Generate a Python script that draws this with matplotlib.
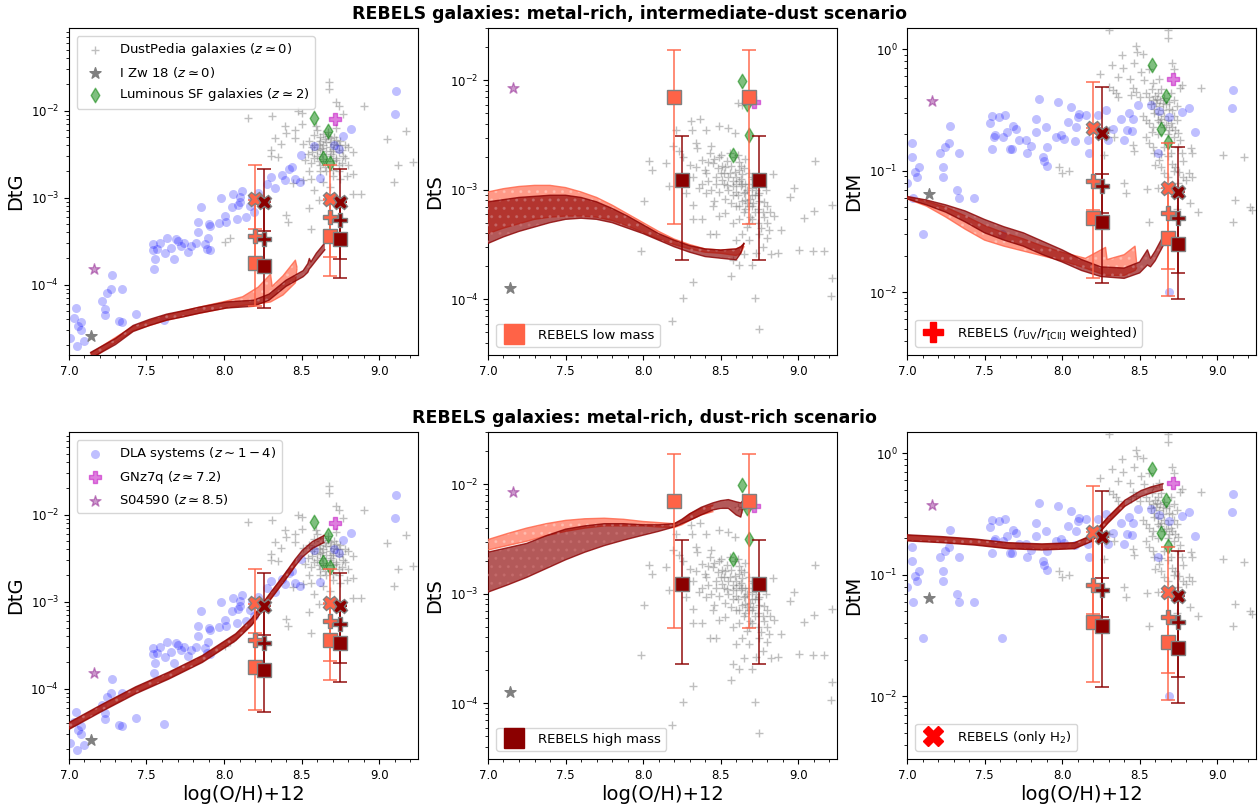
import numpy as np
import matplotlib
matplotlib.use("Agg")
import matplotlib.pyplot as plt
from matplotlib.lines import Line2D
from matplotlib.ticker import MultipleLocator

# ==========================================================
# Data (all y values stored as log10)
# ==========================================================

# DustPedia galaxies (z ~ 0): (log(O/H)+12, log10 value)
dp_dtg = [
    (8.155, -2.08), (8.31, -2.06), (8.48, -2.00), (8.50, -2.03), (8.675, -1.67), (8.675, -1.75),
    (8.72, -1.90), (8.74, -1.95), (8.77, -2.04), (8.905, -1.95), (9.05, -2.33), (9.175, -2.23),
    (9.12, -2.63), (9.095, -2.82), (9.22, -2.59),
    (8.39, -2.18), (8.40, -2.26), (8.33, -2.31), (8.365, -2.38), (8.30, -2.45), (8.30, -2.52),
    (8.35, -2.53), (8.455, -2.31), (8.46, -2.22), (8.50, -2.16), (8.51, -2.38), (8.52, -2.57),
    (8.55, -2.70), (8.51, -2.80), (8.56, -2.79), (8.58, -2.91), (8.615, -3.03), (8.55, -3.12),
    (8.56, -3.36), (8.40, -3.20), (8.41, -3.28), (8.005, -3.51), (8.04, -3.46), (8.445, -2.83),
    (8.68, -3.03), (8.745, -2.79), (8.79, -2.75), (8.83, -2.73), (8.83, -2.48), (8.80, -2.42),
    (8.88, -2.96), (8.83, -2.96), (8.70, -2.68), (8.72, -2.57),
    (8.55, -2.35), (8.57, -2.42), (8.58, -2.28), (8.60, -2.45), (8.61, -2.38), (8.62, -2.30),
    (8.63, -2.50), (8.64, -2.40), (8.65, -2.33), (8.66, -2.46), (8.67, -2.25), (8.68, -2.52),
    (8.69, -2.36), (8.70, -2.44), (8.71, -2.30), (8.72, -2.55), (8.73, -2.40), (8.74, -2.48),
    (8.75, -2.35), (8.76, -2.60), (8.58, -2.55), (8.60, -2.22), (8.62, -2.62), (8.64, -2.27),
    (8.66, -2.58), (8.68, -2.32), (8.70, -2.47), (8.72, -2.20), (8.74, -2.62), (8.63, -2.43),
    (8.65, -2.65), (8.67, -2.29), (8.69, -2.50), (8.71, -2.38), (8.59, -2.18), (8.61, -2.58),
    (8.57, -2.48), (8.77, -2.52), (8.78, -2.40), (8.62, -2.70),
    (8.58, -2.40), (8.60, -2.52), (8.62, -2.44), (8.64, -2.56), (8.66, -2.36), (8.68, -2.42),
    (8.70, -2.58), (8.72, -2.34), (8.74, -2.40), (8.62, -2.35), (8.54, -2.50), (8.56, -2.60),
    (8.76, -2.45), (8.78, -2.55), (8.80, -2.62), (8.66, -2.70), (8.70, -2.75), (8.74, -2.70),
    (8.64, -2.82), (8.68, -2.88),
]

dp_dts = [
    (7.987, -3.555), (8.009, -3.10), (8.04, -2.735), (8.06, -2.82), (8.15, -2.76), (8.17, -2.97),
    (8.185, -4.20), (8.255, -3.985), (8.325, -3.84), (8.21, -2.45), (8.19, -2.60), (8.23, -2.65),
    (8.31, -2.375), (8.37, -2.355), (8.315, -2.45), (8.405, -2.45), (8.49, -2.415), (8.55, -2.44),
    (8.635, -2.23), (8.59, -2.48), (8.61, -2.21), (8.34, -2.57), (8.30, -2.77), (8.34, -2.79),
    (8.275, -2.88), (8.32, -2.88), (8.43, -2.66), (8.45, -2.76), (8.49, -2.70), (8.53, -2.79),
    (8.38, -2.73), (8.405, -2.85), (8.47, -2.88), (8.51, -2.91), (8.56, -2.85), (8.58, -2.97),
    (8.60, -2.88), (8.62, -2.82), (8.63, -2.97), (8.65, -3.03), (8.66, -3.09), (8.68, -3.15),
    (8.705, -2.88), (8.725, -2.94), (8.75, -3.03), (8.78, -3.11), (8.80, -3.15), (8.835, -2.86),
    (8.845, -3.24), (8.815, -3.37), (8.80, -3.44), (8.89, -3.37), (8.87, -3.58), (8.825, -3.59),
    (8.77, -3.52), (8.725, -3.58), (8.705, -3.69), (8.65, -3.59), (8.62, -3.69), (8.58, -3.64),
    (8.565, -3.79), (8.72, -3.99), (8.75, -4.27), (8.975, -2.98), (8.945, -3.07), (9.005, -3.55),
    (9.04, -3.26), (9.095, -3.56), (9.10, -3.19), (9.11, -2.74), (9.165, -3.555), (9.22, -3.14),
    (9.22, -3.81), (9.21, -3.97), (8.43, -3.40), (8.47, -3.40), (8.38, -3.27), (8.32, -3.27),
    (8.32, -3.14), (8.275, -3.03), (8.405, -3.03), (8.45, -3.15), (8.49, -3.24), (8.53, -3.21),
    (8.58, -3.30), (8.60, -3.15), (8.62, -3.27), (8.64, -3.40), (8.67, -3.34), (8.705, -3.27),
    (8.75, -3.40), (8.68, -3.46), (8.60, -3.46),
    (8.46, -2.72), (8.48, -2.80), (8.50, -2.68), (8.52, -2.95), (8.54, -2.74), (8.55, -3.00),
    (8.57, -2.78), (8.58, -2.92), (8.59, -2.70), (8.61, -3.05), (8.62, -2.75), (8.63, -2.90),
    (8.64, -3.10), (8.65, -2.80), (8.66, -2.95), (8.67, -3.00), (8.68, -2.85), (8.69, -3.08),
    (8.70, -2.98), (8.71, -3.12), (8.72, -3.05), (8.74, -3.18), (8.76, -2.92), (8.77, -3.20),
    (8.79, -3.00), (8.52, -2.85), (8.56, -2.66), (8.60, -2.95), (8.64, -2.86), (8.66, -3.18),
    (8.35, -2.62), (8.42, -2.92), (8.44, -2.60), (8.36, -2.98), (8.26, -2.70),
    (8.47, -2.95), (8.49, -3.02), (8.51, -2.78), (8.53, -3.08), (8.55, -2.88), (8.57, -3.12),
    (8.59, -2.84), (8.60, -3.02), (8.61, -2.68), (8.62, -3.15), (8.63, -2.78), (8.64, -2.95),
    (8.65, -3.20), (8.66, -2.72), (8.67, -3.12), (8.68, -2.95), (8.69, -3.25), (8.70, -3.05),
    (8.71, -2.90), (8.72, -3.20), (8.73, -3.00), (8.74, -3.30), (8.75, -3.10), (8.76, -3.35),
    (8.78, -3.25), (8.80, -3.30), (8.82, -3.20), (8.40, -2.82), (8.44, -3.00), (8.46, -3.10),
    (8.38, -2.95), (8.42, -2.75), (8.50, -2.85), (8.54, -2.96), (8.58, -3.05), (8.62, -2.92),
    (8.66, -3.02), (8.70, -3.15), (8.74, -3.05), (8.68, -3.30),
]

dp_dtm = [
    (8.30, 0.16), (8.68, 0.16), (8.68, 0.09), (8.475, 0.03), (8.485, -0.02), (8.52, -0.04),
    (8.385, -0.047), (8.32, -0.13), (8.39, -0.156), (8.465, -0.115), (8.51, -0.184), (8.56, -0.165),
    (8.71, -0.11), (8.72, -0.165), (8.245, -0.20), (8.36, -0.225), (8.44, -0.247), (8.53, -0.25),
    (8.585, -0.28), (8.625, -0.247), (8.77, -0.29), (8.76, -0.32), (8.895, -0.32), (8.305, -0.307),
    (8.325, -0.335), (8.35, -0.36), (8.36, -0.39), (8.455, -0.32), (8.475, -0.35), (8.445, -0.375),
    (8.50, -0.39), (8.54, -0.36), (8.56, -0.39), (8.585, -0.417), (8.605, -0.445), (8.625, -0.47),
    (8.65, -0.50), (8.66, -0.55), (8.68, -0.58), (8.70, -0.61), (8.71, -0.64), (8.73, -0.66),
    (8.745, -0.69), (8.52, -0.55), (8.54, -0.58), (8.56, -0.61), (8.585, -0.64), (8.595, -0.49),
    (8.615, -0.53), (8.64, -0.57), (8.69, -0.49), (8.69, -0.43), (8.71, -0.50), (8.72, -0.55),
    (8.30, -0.66), (8.335, -0.72), (8.455, -0.79), (8.465, -0.84), (8.27, -0.87), (8.54, -0.72),
    (8.56, -0.77), (8.585, -0.80), (8.595, -0.856), (8.625, -0.91), (8.64, -0.966), (8.66, -1.02),
    (8.68, -0.88), (8.71, -0.94), (8.73, -0.966), (8.755, -1.007), (8.78, -1.048), (8.80, -1.075),
    (8.82, -1.02), (8.84, -1.048), (8.83, -0.815), (8.84, -0.856), (8.77, -0.856), (8.40, -1.097),
    (8.415, -1.185), (8.545, -1.152), (8.615, -1.144), (8.56, -1.418), (8.825, -1.267),
    (8.875, -1.336), (8.74, -1.31), (9.035, -0.87), (9.10, -1.418), (9.175, -0.89), (9.115, -1.24),
    (9.21, -1.295), (9.225, -1.32), (7.98, -0.97), (8.0, -1.02), (8.045, -1.0),
    (8.58, -0.33), (8.60, -0.38), (8.62, -0.36), (8.63, -0.42), (8.64, -0.33), (8.66, -0.40),
    (8.67, -0.45), (8.70, -0.36), (8.72, -0.42), (8.74, -0.47), (8.62, -0.58), (8.66, -0.64),
    (8.68, -0.70), (8.70, -0.76), (8.75, -0.80),
    (8.57, -0.45), (8.59, -0.52), (8.61, -0.41), (8.63, -0.60), (8.65, -0.44), (8.67, -0.62),
    (8.69, -0.66), (8.72, -0.72), (8.74, -0.58), (8.76, -0.75), (8.62, -0.70), (8.58, -0.68),
    (8.66, -0.80), (8.70, -0.85), (8.78, -0.92), (8.64, -0.86), (8.60, -0.95), (8.68, -1.05),
    (8.75, -1.10), (8.72, -1.00),
]

# DLA systems (z ~ 1-4)
dla_dtg = [
    (7.045, -4.27), (7.03, -4.39), (7.06, -4.48), (7.08, -4.43), (7.075, -4.52), (7.055, -4.71),
    (7.10, -4.65), (7.005, -4.62), (7.21, -4.19), (7.23, -4.28), (7.23, -4.35), (7.245, -4.10),
    (7.27, -4.05), (7.28, -3.89), (7.32, -4.42), (7.34, -4.43), (7.34, -4.05), (7.43, -4.34),
    (7.61, -4.41), (7.54, -3.60), (7.545, -3.53), (7.555, -3.71), (7.55, -3.82), (7.565, -3.59),
    (7.585, -3.52), (7.62, -3.64), (7.635, -3.46), (7.655, -3.58), (7.675, -3.71), (7.69, -3.48),
    (7.705, -3.50), (7.72, -3.56), (7.745, -3.52), (7.77, -3.63), (7.79, -3.56), (7.82, -3.52),
    (7.83, -3.40), (7.835, -3.28), (7.85, -3.11), (7.88, -3.53), (7.89, -3.59), (7.895, -3.47),
    (7.90, -3.30), (7.91, -3.33), (7.91, -3.60), (7.97, -3.29), (7.98, -3.01), (8.005, -3.21),
    (8.01, -3.28), (8.05, -3.11), (8.06, -2.96), (8.085, -3.25), (8.09, -3.08), (8.10, -3.05),
    (8.10, -2.99), (8.115, -2.93), (8.14, -3.22), (8.17, -3.10), (8.18, -3.01), (8.19, -3.17),
    (8.22, -2.95), (8.28, -2.84), (8.30, -2.76), (8.33, -2.89), (8.375, -2.74), (8.395, -2.80),
    (8.42, -2.67), (8.44, -2.65), (8.455, -2.79), (8.495, -2.51), (8.49, -2.82), (8.58, -2.41),
    (8.62, -2.78), (8.71, -2.39), (8.74, -2.44), (8.77, -2.29), (8.82, -2.21), (9.10, -2.04),
    (9.11, -1.77),
]

dla_dtm = [
    (7.035, -0.774), (7.03, -0.889), (7.05, -1.007), (7.065, -1.048), (7.08, -0.966), (7.04, -1.226),
    (7.10, -1.523), (7.0, -1.10), (7.21, -0.856), (7.23, -0.966), (7.23, -1.048), (7.245, -0.801),
    (7.27, -0.768), (7.28, -0.631), (7.32, -1.158), (7.335, -0.856), (7.335, -1.226), (7.43, -1.226),
    (7.61, -1.523), (7.535, -0.609), (7.55, -0.546), (7.55, -0.823), (7.56, -0.719), (7.57, -0.705),
    (7.59, -0.560), (7.62, -0.724), (7.633, -0.540), (7.645, -0.678), (7.665, -0.823), (7.68, -0.823),
    (7.685, -0.631), (7.705, -0.658), (7.72, -0.746), (7.765, -0.746), (7.775, -0.856), (7.80, -0.796),
    (7.83, -0.573), (7.83, -0.678), (7.85, -0.411), (7.875, -0.883), (7.885, -0.916), (7.895, -0.636),
    (7.905, -0.960), (7.905, -0.801), (7.96, -0.719), (7.975, -0.431), (7.99, -0.705), (8.01, -0.741),
    (8.04, -0.601), (8.06, -0.477), (8.08, -0.752), (8.09, -0.636), (8.10, -0.554), (8.11, -0.532),
    (8.155, -0.540), (8.17, -0.746), (8.175, -0.856), (8.23, -0.540), (8.28, -0.499), (8.295, -0.746),
    (8.33, -0.658), (8.38, -0.576), (8.40, -0.746), (8.42, -0.664), (8.43, -0.527), (8.45, -0.672),
    (8.46, -0.573), (8.49, -0.458), (8.57, -0.458), (8.615, -0.856), (8.625, -0.505), (8.69, -0.560),
    (8.77, -0.513), (8.82, -0.486), (8.86, -0.678), (8.69, -2.0), (9.095, -0.486), (9.105, -0.335),
]

# single objects: (x, DtG, DtS, DtM) in log10
izw18 = (7.14, -4.59, -3.90, -1.193)
s04590 = (7.16, -3.816, -2.07, -0.425)
gnz7q = (8.715, -2.10, -2.195, -0.247)

# luminous SF galaxies (z ~ 2)
lsf_x = [8.58, 8.635, 8.67, 8.685]
lsf_dtg = [-2.08, -2.55, -2.24, -2.605]
lsf_dts = [-2.68, -2.01, -2.22, -2.50]
lsf_dtm = [-0.13, -0.656, -0.384, -0.76]

# REBELS: (log(O/H)+12, marker, value, lower, upper)
reb_dtg_low = [
    (8.20, "s", -3.755, -4.245, -3.36), (8.20, "P", -3.44, -3.75, -3.03), (8.20, "X", -3.015, -3.44, -2.63),
    (8.685, "s", -3.44, -3.90, -3.03), (8.685, "P", -3.22, -3.68, -3.015), (8.685, "X", -3.015, -3.44, -2.63),
]
reb_dtg_high = [
    (8.255, "s", -3.785, -4.27, -3.38), (8.255, "P", -3.48, -3.785, -3.05), (8.255, "X", -3.046, -3.48, -2.674),
    (8.745, "s", -3.475, -3.93, -3.05), (8.745, "P", -3.257, -3.705, -3.05), (8.745, "X", -3.046, -3.475, -2.674),
]
reb_dts_low = [(8.20, "s", -2.152, -3.31, -1.72), (8.685, "s", -2.152, -3.31, -1.72)]
reb_dts_high = [(8.25, "s", -2.91, -3.64, -2.51), (8.745, "s", -2.91, -3.64, -2.51)]
reb_dtm_low = [
    (8.20, "s", -1.39, -1.885, -1.08), (8.20, "P", -1.084, -1.32, -0.65), (8.20, "X", -0.65, -1.08, -0.27),
    (8.685, "s", -1.556, -2.03, -1.35), (8.685, "P", -1.35, -1.81, -1.144), (8.685, "X", -1.144, -1.556, -0.768),
]
reb_dtm_high = [
    (8.255, "s", -1.424, -1.926, -1.029), (8.255, "P", -1.122, -1.35, -0.686), (8.255, "X", -0.686, -1.122, -0.307),
    (8.745, "s", -1.602, -2.058, -1.385), (8.745, "P", -1.385, -1.844, -1.171), (8.745, "X", -1.171, -1.602, -0.80),
]

# Model bands: (x, lower, upper) in log10
# intermediate-dust scenario
mi_dtg_low = [
    (7.14, -4.86, -4.79), (7.414, -4.53, -4.48), (7.63, -4.41, -4.35), (7.84, -4.33, -4.26),
    (8.015, -4.27, -4.19), (8.12, -4.24, -4.14), (8.22, -4.22, -4.03), (8.30, -4.20, -3.88),
    (8.31, -4.19, -4.02), (8.38, -4.12, -3.90), (8.46, -3.98, -3.72), (8.47, -3.82, -3.80),
]
mi_dtg_high = [
    (7.14, -4.85, -4.78), (7.30, -4.69, -4.62), (7.414, -4.54, -4.47), (7.52, -4.47, -4.40),
    (7.63, -4.41, -4.34), (7.74, -4.37, -4.30), (7.84, -4.33, -4.26), (8.015, -4.27, -4.20),
    (8.19, -4.25, -4.18), (8.29, -4.18, -4.11), (8.40, -4.02, -3.95), (8.51, -3.91, -3.84),
    (8.54, -3.86, -3.76), (8.55, -3.82, -3.70), (8.56, -3.80, -3.74), (8.595, -3.72, -3.64),
    (8.65, -3.60, -3.52),
]
mi_dts_low = [
    (7.0, -3.40, -3.02), (7.1, -3.35, -2.99), (7.2, -3.31, -2.97), (7.3, -3.27, -2.96),
    (7.4, -3.25, -2.96), (7.5, -3.24, -2.98), (7.6, -3.24, -3.02), (7.7, -3.25, -3.07),
    (7.8, -3.28, -3.14), (7.9, -3.33, -3.22), (8.0, -3.39, -3.30), (8.1, -3.45, -3.38),
    (8.2, -3.50, -3.45), (8.3, -3.54, -3.50), (8.4, -3.57, -3.54), (8.5, -3.58, -3.55),
    (8.6, -3.60, -3.54), (8.63, -3.58, -3.52), (8.65, -3.52, -3.50),
]
mi_dts_high = [
    (7.0, -3.49, -3.11), (7.1, -3.43, -3.09), (7.2, -3.38, -3.07), (7.3, -3.34, -3.06),
    (7.4, -3.30, -3.05), (7.5, -3.27, -3.05), (7.6, -3.26, -3.07), (7.7, -3.27, -3.11),
    (7.8, -3.30, -3.17), (7.9, -3.35, -3.24), (8.0, -3.40, -3.32), (8.1, -3.46, -3.40),
    (8.2, -3.52, -3.46), (8.3, -3.57, -3.51), (8.4, -3.61, -3.54), (8.5, -3.625, -3.55),
    (8.6, -3.64, -3.54), (8.63, -3.58, -3.52), (8.65, -3.49, -3.49),
]
mi_dtm_low = [
    (7.0, -1.23, -1.22), (7.125, -1.29, -1.25), (7.25, -1.38, -1.30), (7.375, -1.48, -1.37),
    (7.5, -1.57, -1.45), (7.625, -1.62, -1.51), (7.75, -1.66, -1.56), (7.875, -1.70, -1.62),
    (8.0, -1.74, -1.67), (8.15, -1.80, -1.72), (8.28, -1.86, -1.63), (8.29, -1.86, -1.73),
    (8.40, -1.86, -1.69), (8.47, -1.82, -1.62), (8.48, -1.80, -1.75),
]
mi_dtm_high = [
    (7.0, -1.23, -1.21), (7.125, -1.28, -1.24), (7.25, -1.34, -1.28), (7.375, -1.42, -1.33),
    (7.5, -1.51, -1.40), (7.625, -1.57, -1.46), (7.75, -1.62, -1.51), (7.875, -1.69, -1.58),
    (8.0, -1.75, -1.65), (8.125, -1.82, -1.73), (8.25, -1.87, -1.79), (8.4, -1.885, -1.80),
    (8.5, -1.84, -1.75), (8.55, -1.775, -1.65), (8.57, -1.79, -1.72), (8.6, -1.74, -1.66),
    (8.65, -1.62, -1.54),
]
# dust-rich scenario
mr_dtg_low = [
    (7.0, -4.46, -4.40), (7.215, -4.25, -4.19), (7.43, -4.05, -3.99), (7.645, -3.88, -3.82),
    (7.86, -3.69, -3.63), (8.075, -3.44, -3.38), (8.18, -3.26, -3.20), (8.29, -2.99, -2.93),
    (8.40, -2.73, -2.67), (8.46, -2.58, -2.52),
]
mr_dtg_high = [
    (7.0, -4.47, -4.39), (7.215, -4.26, -4.18), (7.43, -4.06, -3.98), (7.645, -3.89, -3.81),
    (7.86, -3.70, -3.62), (8.075, -3.45, -3.37), (8.18, -3.27, -3.19), (8.29, -3.00, -2.92),
    (8.40, -2.74, -2.66), (8.46, -2.59, -2.51), (8.505, -2.49, -2.41), (8.57, -2.39, -2.31),
    (8.645, -2.32, -2.24),
]
mr_dts_low = [
    (7.0, -2.60, -2.505), (7.125, -2.56, -2.45), (7.25, -2.52, -2.40), (7.375, -2.47, -2.36),
    (7.5, -2.43, -2.33), (7.625, -2.40, -2.315), (7.75, -2.38, -2.31), (7.875, -2.38, -2.32),
    (8.0, -2.38, -2.34), (8.1, -2.39, -2.35), (8.2, -2.395, -2.36), (8.25, -2.37, -2.33),
    (8.3, -2.33, -2.27), (8.375, -2.28, -2.22), (8.45, -2.25, -2.19),
]
mr_dts_high = [
    (7.0, -2.985, -2.62), (7.125, -2.92, -2.58), (7.25, -2.85, -2.54), (7.375, -2.77, -2.47),
    (7.5, -2.69, -2.41), (7.625, -2.62, -2.38), (7.75, -2.56, -2.36), (7.875, -2.51, -2.36),
    (8.0, -2.465, -2.37), (8.1, -2.43, -2.37), (8.2, -2.39, -2.36), (8.25, -2.36, -2.32),
    (8.3, -2.33, -2.27), (8.375, -2.28, -2.21), (8.45, -2.235, -2.17), (8.5, -2.22, -2.15),
    (8.55, -2.22, -2.14), (8.6, -2.28, -2.16), (8.63, -2.30, -2.17), (8.65, -2.17, -2.14),
]
mr_dtm_low = [
    (7.0, -0.715, -0.675), (7.225, -0.73, -0.69), (7.44, -0.75, -0.71), (7.655, -0.78, -0.74),
    (7.87, -0.79, -0.75), (8.08, -0.78, -0.74), (8.19, -0.72, -0.68), (8.295, -0.57, -0.53),
    (8.405, -0.43, -0.39),
]
mr_dtm_high = [
    (7.0, -0.72, -0.67), (7.225, -0.735, -0.685), (7.44, -0.755, -0.705), (7.655, -0.785, -0.735),
    (7.87, -0.795, -0.745), (8.08, -0.785, -0.735), (8.19, -0.725, -0.675), (8.295, -0.575, -0.525),
    (8.405, -0.435, -0.385), (8.51, -0.355, -0.305), (8.575, -0.325, -0.275), (8.65, -0.30, -0.25),
]

quantities = ["DtG", "DtS", "DtM"]
ylims = {"DtG": (1.55e-5, 8.9e-2), "DtS": (3.1e-5, 3.0e-2), "DtM": (3.05e-3, 1.5)}
titles = [
    "REBELS galaxies: metal-rich, intermediate-dust scenario",
    "REBELS galaxies: metal-rich, dust-rich scenario",
]

LOW_C = "tomato"
HIGH_C = "darkred"


def band(ax, rows, color, hatch_color, zorder):
    x = np.array([r[0] for r in rows])
    lo = 10 ** np.array([r[1] for r in rows])
    hi = 10 ** np.array([r[2] for r in rows])
    ax.fill_between(x, lo, hi, facecolor=color, edgecolor=hatch_color, hatch="..",
                    linewidth=0, alpha=0.65, zorder=zorder)
    ax.plot(x, lo, color=color, lw=1.0, alpha=0.8, zorder=zorder)
    ax.plot(x, hi, color=color, lw=1.0, alpha=0.8, zorder=zorder)


def rebels(ax, rows, color):
    for x, m, v, lo, hi in rows:
        val = 10 ** v
        ax.errorbar([x], [val], yerr=[[val - 10 ** lo], [10 ** hi - val]], fmt="none",
                    ecolor=color, elinewidth=1.3, capsize=5, capthick=1.3, alpha=0.8, zorder=5)
    for x, m, v, lo, hi in rows:
        ax.plot([x], [10 ** v], marker=m, ms=10.5, color=color,
                mec="grey", mew=1.0, ls="none", zorder=6)


def pts(rows):
    return [r[0] for r in rows], [10 ** r[1] for r in rows]


fig = plt.figure(figsize=(12.58, 8.09), dpi=100)

col_left = [0.0548, 0.3879, 0.7210]
row_bottom = [0.5612, 0.0618]
w, h = 0.2774, 0.4042

models = {
    (0, "DtG"): (mi_dtg_low, mi_dtg_high), (0, "DtS"): (mi_dts_low, mi_dts_high),
    (0, "DtM"): (mi_dtm_low, mi_dtm_high), (1, "DtG"): (mr_dtg_low, mr_dtg_high),
    (1, "DtS"): (mr_dts_low, mr_dts_high), (1, "DtM"): (mr_dtm_low, mr_dtm_high),
}

for row in range(2):
    for col, q in enumerate(quantities):
        ax = fig.add_axes([col_left[col], row_bottom[row], w, h])
        ax.set_yscale("log")
        qi = col + 1

        # observations
        dp = {"DtG": dp_dtg, "DtS": dp_dts, "DtM": dp_dtm}[q]
        x, y = pts(dp)
        h_dp = ax.scatter(x, y, marker="+", color="grey", alpha=0.5, s=30, lw=1.0, zorder=1,
                          label=r"DustPedia galaxies ($z\simeq0$)")
        h_dla = None
        if q != "DtS":
            x, y = pts(dla_dtg if q == "DtG" else dla_dtm)
            h_dla = ax.scatter(x, y, marker="o", color="blue", alpha=0.25, s=42, lw=0, zorder=1,
                               label=r"DLA systems ($z\sim1-4$)")
        h_izw = ax.scatter([izw18[0]], [10 ** izw18[qi]], marker="*", color="grey", s=70, zorder=2,
                           label=r"I Zw 18 ($z\simeq0$)")
        lsf = {"DtG": lsf_dtg, "DtS": lsf_dts, "DtM": lsf_dtm}[q]
        h_lsf = ax.scatter(lsf_x, [10 ** v for v in lsf], marker="d", color="green", alpha=0.5,
                           s=55, zorder=2, label=r"Luminous SF galaxies ($z\simeq2$)")
        h_gn = ax.scatter([gnz7q[0]], [10 ** gnz7q[qi]], marker="P", color="m", alpha=0.5, s=70,
                          zorder=2, label=r"GNz7q ($z\simeq7.2$)")
        h_s0 = ax.scatter([s04590[0]], [10 ** s04590[qi]], marker="*", color="purple", alpha=0.4,
                          s=70, zorder=2, label=r"S04590 ($z\simeq8.5$)")

        # models
        low_rows, high_rows = models[(row, q)]
        band(ax, low_rows, LOW_C, "#ffc4b8", 3)
        band(ax, high_rows, HIGH_C, "#c87070", 4)

        # REBELS
        lowr = {"DtG": reb_dtg_low, "DtS": reb_dts_low, "DtM": reb_dtm_low}[q]
        highr = {"DtG": reb_dtg_high, "DtS": reb_dts_high, "DtM": reb_dtm_high}[q]
        rebels(ax, lowr, LOW_C)
        rebels(ax, highr, HIGH_C)

        ax.set_xlim(7.0, 9.25)
        ax.set_ylim(*ylims[q])
        ax.set_xticks([7.0, 7.5, 8.0, 8.5, 9.0])
        ax.xaxis.set_minor_locator(MultipleLocator(0.1))
        ax.tick_params(labelsize=8.5)
        ax.set_ylabel(q, fontsize=14)
        if row == 1:
            ax.set_xlabel("log(O/H)+12", fontsize=14, labelpad=2)

        # legends
        if col == 0:
            if row == 0:
                hs = [h_dp, h_izw, h_lsf]
            else:
                hs = [h_dla, h_gn, h_s0]
            ax.legend(handles=hs, loc="upper left", fontsize=9.5, borderaxespad=0.6)
        else:
            if col == 1:
                lab = "REBELS low mass" if row == 0 else "REBELS high mass"
                hd = Line2D([], [], marker="s", ls="none", ms=14,
                            color=LOW_C if row == 0 else HIGH_C)
            else:
                if row == 0:
                    lab = r"REBELS ($r_{\rm UV}/r_{\rm [CII]}$ weighted)"
                    hd = Line2D([], [], marker="P", ls="none", ms=14, color="red")
                else:
                    lab = r"REBELS (only H$_2$)"
                    hd = Line2D([], [], marker="X", ls="none", ms=14, color="red")
            ax.legend(handles=[hd], labels=[lab], loc="lower left", fontsize=9.5,
                      borderaxespad=0.6)

fig.text(0.5, 0.983, titles[0], ha="center", va="center", fontsize=12.5, fontweight="bold")
fig.text(0.512, 0.483, titles[1], ha="center", va="center", fontsize=12.5, fontweight="bold")

fig.savefig("out.png", dpi=100)
